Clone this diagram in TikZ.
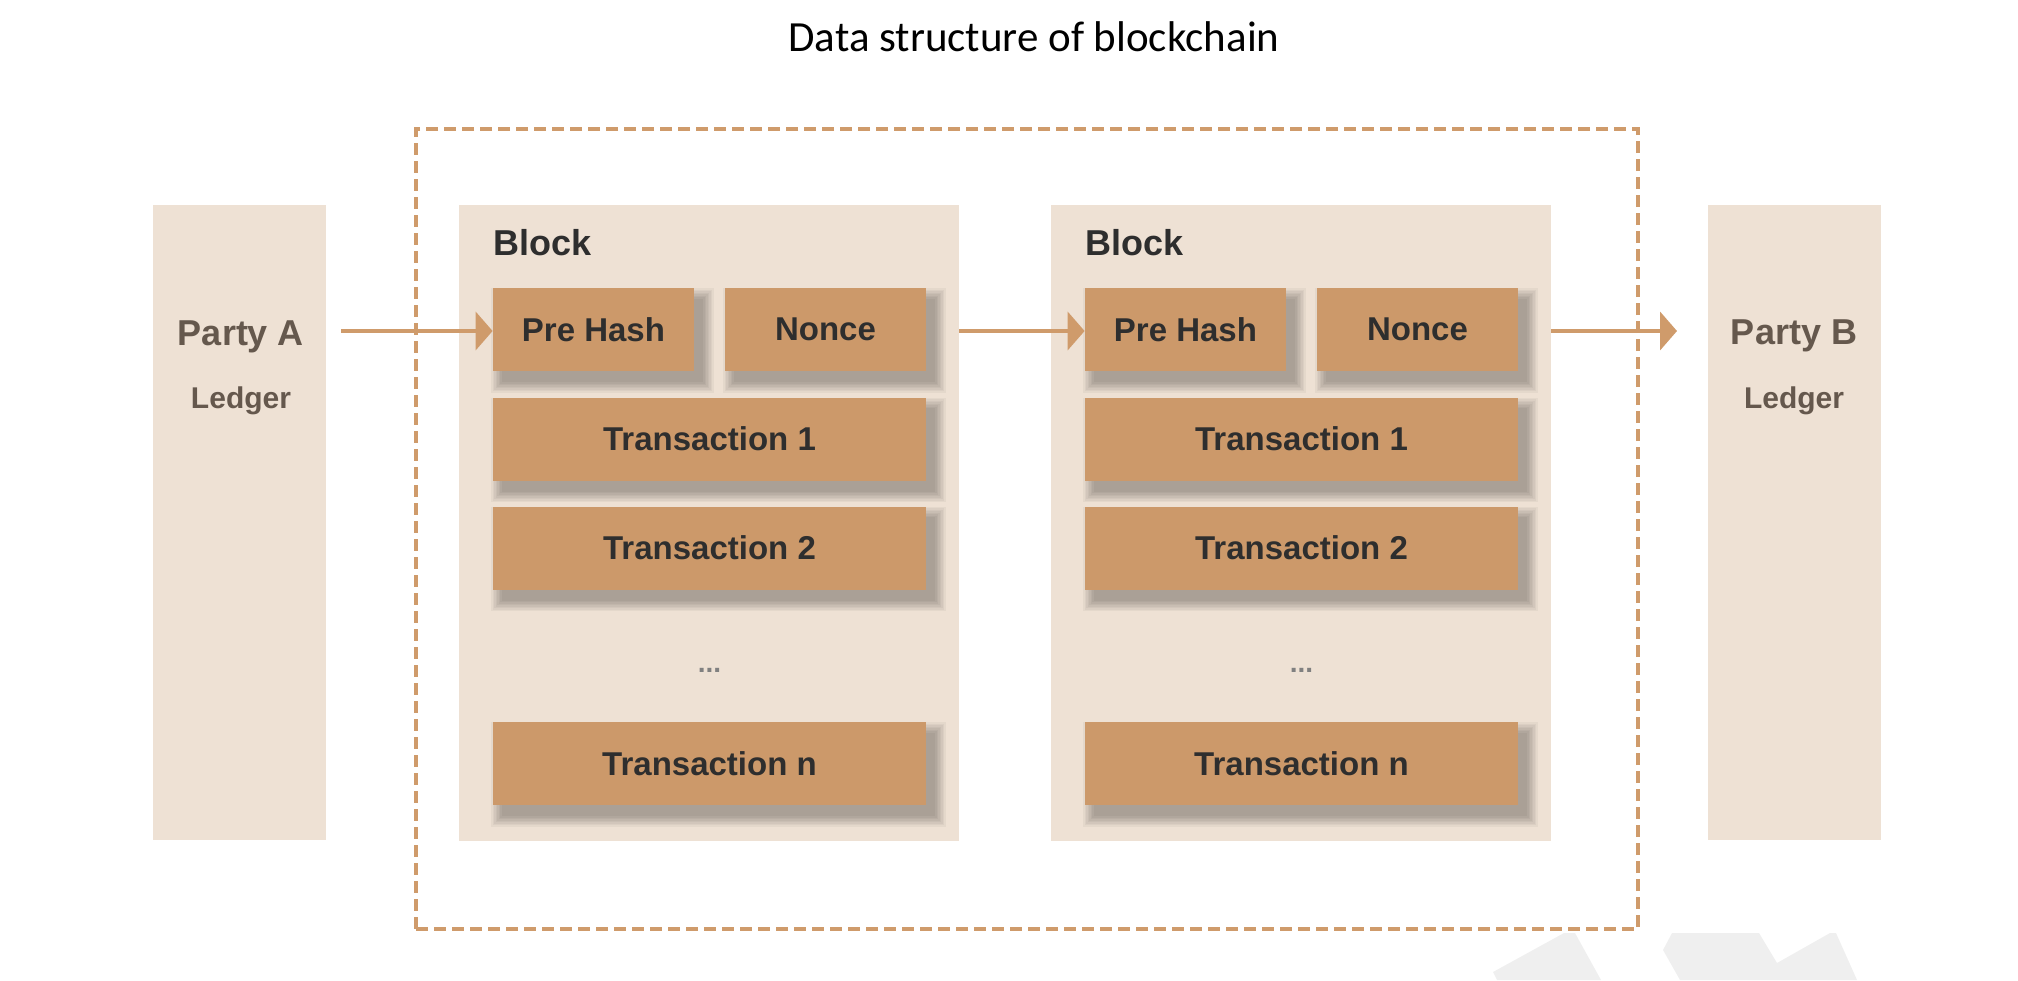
\documentclass[tikz,border=0pt]{standalone}
\usepackage{fontspec}
\setmainfont{Liberation Sans}
\newfontfamily\titlefont{Carlito}
\usetikzlibrary{arrows.meta}
\definecolor{blockbg}{HTML}{EEE1D4}
\definecolor{cellfill}{HTML}{CC996A}
\definecolor{linec}{HTML}{CF9B6B}
\definecolor{partytxt}{HTML}{65584D}
\definecolor{celltxt}{HTML}{2E2E2E}
\definecolor{wm}{HTML}{EFEFEF}
\pgfdeclarelayer{panels}
\pgfdeclarelayer{shadows}
\pgfsetlayers{panels,shadows,main}
\begin{document}
\begin{tikzpicture}[x=0.5pt,y=-0.5pt,
  panel/.style={draw=none, fill=blockbg, inner sep=0pt},
  partypanel/.style={panel, minimum width=86.5pt, minimum height=317.5pt},
  blockpanel/.style={panel, minimum width=250pt, minimum height=318pt},
  cell/.style={fill=cellfill, inner sep=0pt, minimum height=41.5pt,
    font=\fontsize{16.5}{19}\selectfont\bfseries, text=celltxt},
  halfcell/.style={cell, minimum width=100.5pt},
  fullcell/.style={cell, minimum width=216.5pt},
  softshadow/.style={fill=black, opacity=0.04, draw=none},
  blocklabel/.style={anchor=base west, inner sep=0pt, font=\fontsize{18}{22}\selectfont\bfseries, text=celltxt},
  partyname/.style={anchor=base, inner sep=0pt, font=\fontsize{18}{22}\selectfont\bfseries, text=partytxt},
  ledger/.style={anchor=base, inner sep=0pt, font=\fontsize{15}{18}\selectfont\bfseries, text=partytxt},
  dots/.style={anchor=base, inner sep=0pt, font=\fontsize{14}{16}\selectfont\bfseries, text=black!50},
  frame/.style={draw=linec, line width=2pt, dash pattern=on 6pt off 3pt, inner sep=0pt, minimum width=611pt, minimum height=400pt},
  arr/.style={draw=linec, line width=2.25pt, -{Triangle[length=8.5pt, width=19pt]}},
  wmark/.style={fill=wm, draw=none}
]
\useasboundingbox (0,0) rectangle (2018,980);

\begin{pgfonlayer}{panels}
% watermark fragments
\fill[wmark] (1493,972) -- (1564,933) -- (1575,933) -- (1601,980) -- (1497,980) -- cycle;
\fill[wmark] (1672,933) -- (1759,933) -- (1777,963) -- (1830,933) -- (1836,933) -- (1857,980) -- (1680,980) -- (1663,950) -- cycle;
% panels
\node[partypanel] (partyA) at (239.5,522.5) {};
\node[partypanel] (partyB) at (1794,522.5) {};
\node[blockpanel] (block1) at (709,523) {};
\node[blockpanel] (block2) at (1301,523) {};
\end{pgfonlayer}

% title
\node[anchor=base, inner sep=0pt, font=\titlefont\fontsize{21.5}{26}\selectfont] (title) at (1034,51) {Data structure of blockchain};

% dashed frame
\node[frame] (chain) at (1027,529) {};

% party texts
\node[partyname] (pA) at (241,345) {Party A};
\node[ledger] (lA) at (241,408) {Ledger};
\node[partyname] (pB) at (1794,344) {Party B};
\node[ledger] (lB) at (1794,408) {Ledger};

% block 1
\node[blocklabel] (lbl1) at (493,255) {Block};
\node[halfcell] (pre1) at (593.5,329.5) {Pre Hash};
\node[halfcell] (non1) at (825.5,329.5) {Nonce};
\node[fullcell] (t11) at (709.5,439) {Transaction 1};
\node[fullcell] (t12) at (709.5,548) {Transaction 2};
\node[dots] (d1) at (709.5,672) {...};
\node[fullcell] (t1n) at (709.5,763.5) {Transaction n};

% block 2
\node[blocklabel] (lbl2) at (1085,255) {Block};
\node[halfcell] (pre2) at (1185.5,329.5) {Pre Hash};
\node[halfcell] (non2) at (1417.5,329.5) {Nonce};
\node[fullcell] (t21) at (1301.5,439) {Transaction 1};
\node[fullcell] (t22) at (1301.5,548) {Transaction 2};
\node[dots] (d2) at (1301.5,672) {...};
\node[fullcell] (t2n) at (1301.5,763.5) {Transaction n};

% soft drop shadows of the cells
\begin{pgfonlayer}{shadows}
\foreach \n in {pre1,non1,t11,t12,t1n,pre2,non2,t21,t22,t2n}{
  \foreach \e in {0,1.5,...,10.5}{
    \fill[softshadow] ([shift={(9-\e,11+\e)}]\n.south west) rectangle ([shift={(9+\e,11-\e)}]\n.north east);
  }
}
\end{pgfonlayer}

% arrows
\coordinate (a0) at (341,331);
\coordinate (a3) at (1677,331);
\draw[arr] (a0) -- (a0 -| pre1.west);
\draw[arr] (block1.east |- a0) -- (a0 -| pre2.west);
\draw[arr] (block2.east |- a3) -- (a3);
\end{tikzpicture}
\end{document}
